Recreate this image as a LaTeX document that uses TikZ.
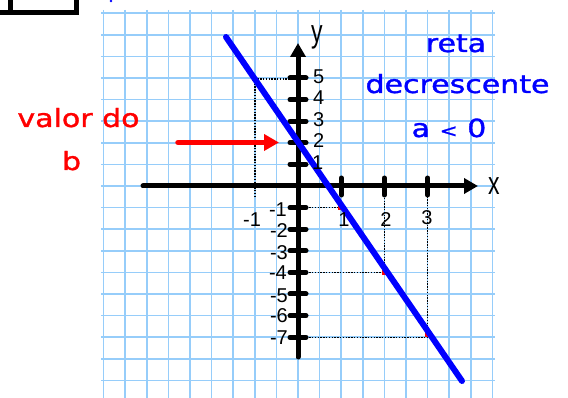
\documentclass[tikz,border=0pt]{standalone}
\usepackage{fontspec}
\setmainfont{Liberation Sans}
\newfontfamily\comicf[FakeBold=1.2]{DejaVu Sans}
\usetikzlibrary{arrows.meta}
\definecolor{gridblue}{RGB}{150,205,250}
\definecolor{lineblue}{RGB}{0,0,255}
\definecolor{redc}{RGB}{255,0,0}
\tikzset{
  gridline/.style={draw=gridblue,line width=1.6pt},
  axisline/.style={draw=black,line width=5pt,line cap=round},
  tickmark/.style={draw=black,line width=5pt,line cap=round},
  dotline/.style={draw=black,line width=1.3pt,dash pattern=on 1.4pt off 1.4pt},
  numlab/.style={font=\fontsize{20}{20}\selectfont,inner sep=0pt},
  axlab/.style={font=\fontsize{32}{32}\selectfont,inner sep=0pt,xscale=0.72},
  bluetxt/.style={text=lineblue,font=\comicf\fontsize{25}{25}\selectfont,inner sep=0pt,anchor=base,xscale=1.2},
  redtxt/.style={text=redc,font=\comicf\fontsize{25}{25}\selectfont,inner sep=0pt,anchor=base,xscale=1.2},
  redmark/.style={fill=redc,draw=none},
}
\begin{document}
\begin{tikzpicture}[x=1pt,y=-1pt]
\useasboundingbox (0,0) rectangle (568,398);
% grid
\foreach \k in {-9,...,9} \draw[gridline] ({298+21.6*\k},10) -- ({298+21.6*\k},400);
\foreach \k in {-8,...,9} \draw[gridline] (101,{186+21.6*\k}) -- (495,{186+21.6*\k});
% top-left box fragment
\draw[line width=5pt] (10.5,-3) -- (10.5,13) (0,13) -- (78.5,13) (76,-3) -- (76,13);
\fill[lineblue] (111,1) circle (1.3pt);
% points
\coordinate (O) at (298,186);
\coordinate (Pm1) at (255,79);
\coordinate (P1) at (341.2,207.6);
\coordinate (P2) at (384.4,272.4);
\coordinate (P3) at (427.6,337.2);
% dotted guides
\draw[dotline] (298,79) -- (Pm1) -- (255,196);
\draw[dotline] (298,207.6) -- (P1);
\draw[dotline] (298,272.4) -- (P2) -- (384.4,186);
\draw[dotline] (298,337.2) -- (P3) -- (427.6,186);
% red marks
\fill[redmark] (251.5,77) rectangle (255.5,81.5);
\fill[redmark] (338,206) rectangle (342,210.5);
\fill[redmark] (381.5,270) rectangle (385.5,275);
\fill[redmark] (424.5,332) rectangle (428.5,337);
% axes
\coordinate (xs) at (143,186);
\coordinate (xe) at (478,186);
\coordinate (ys) at (298,357);
\coordinate (ye) at (298,43);
\draw[axisline,-{Triangle[length=14pt,width=15pt]}] (xs) -- (xe);
\draw[axisline,-{Triangle[length=14pt,width=15pt]}] (ys) -- (ye);
% ticks
\foreach \k in {5,4,3,2,1,-1,-2,-3,-4,-5,-6,-7}
  \draw[tickmark] (290,{186-21.6*\k}) -- (306,{186-21.6*\k});
\foreach \k in {1,2,3}
  \draw[tickmark] ({298+43.2*\k},178) -- ({298+43.2*\k},195);
% the line
\coordinate (La) at (226,37);
\coordinate (Lb) at (462,381);
\draw[draw=lineblue,line width=6pt,line cap=round] (La) -- (Lb);
% labels y
\node[numlab,anchor=west] (l5) at (313,77) {5};
\node[numlab,anchor=west] (l4) at (313,98) {4};
\node[numlab,anchor=west] (l3) at (313,120) {3};
\node[numlab,anchor=west] (l2) at (313,141) {2};
\node[numlab,anchor=west] (l1) at (312,163) {1};
\node[numlab,anchor=east] (lm1) at (287,210) {-1};
\node[numlab,anchor=east] (lm2) at (288,231) {-2};
\node[numlab,anchor=east] (lm3) at (288,253) {-3};
\node[numlab,anchor=east] (lm4) at (287,273) {-4};
\node[numlab,anchor=east] (lm5) at (288,296) {-5};
\node[numlab,anchor=east] (lm6) at (288,316) {-6};
\node[numlab,anchor=east] (lm7) at (288,338) {-7};
% labels x
\node[numlab] (xm1) at (252,220) {-1};
\node[numlab] (x1) at (344,220) {1};
\node[numlab] (x2) at (386,220) {2};
\node[numlab] (x3) at (427,218) {3};
\node[axlab] (xl) at (494,186.5) {x};
\node[axlab,anchor=base] (yl) at (317,43) {y};
% texts
\node[bluetxt] (t1) at (456,52) {reta};
\node[bluetxt] (t2) at (457.5,93) {decrescente};
\node[bluetxt] (t3) at (449,137) {a {\fontsize{18}{18}\selectfont<} 0};
\node[redtxt] (r1) at (78.5,127) {valor do};
\node[redtxt] (r2) at (71.5,170) {b};
% red arrow
\coordinate (as) at (178,142.5);
\coordinate (ae) at (279,142.5);
\draw[draw=redc,line width=5.5pt,line cap=round,-{Triangle[length=15pt,width=16pt]}] (as) -- (ae);
\end{tikzpicture}
\end{document}
